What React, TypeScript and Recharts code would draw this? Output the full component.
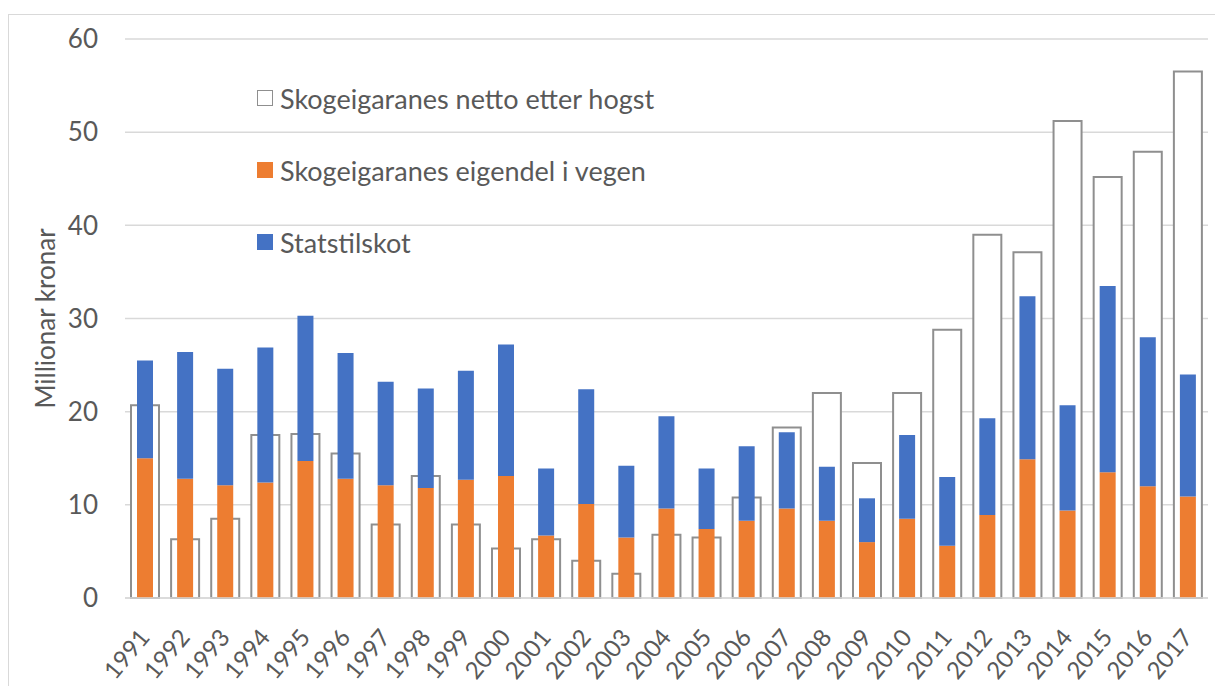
import React from 'react';
import { ComposedChart, Bar, XAxis, YAxis, CartesianGrid } from 'recharts';

const years = [
  '1991', '1992', '1993', '1994', '1995', '1996', '1997', '1998', '1999', '2000',
  '2001', '2002', '2003', '2004', '2005', '2006', '2007', '2008', '2009', '2010',
  '2011', '2012', '2013', '2014', '2015', '2016', '2017',
];

// Skogeigaranes netto etter hogst (white, outlined)
const netto = [
  20.7, 6.3, 8.5, 17.5, 17.6, 15.5, 7.9, 13.1, 7.9, 5.3,
  6.3, 4.0, 2.6, 6.8, 6.5, 10.8, 18.3, 22.0, 14.5, 22.0,
  28.8, 39.0, 37.1, 51.2, 45.2, 47.9, 56.5,
];

// Skogeigaranes eigendel i vegen (orange)
const eigendel = [
  15.0, 12.8, 12.1, 12.4, 14.7, 12.8, 12.1, 11.8, 12.7, 13.1,
  6.7, 10.1, 6.5, 9.6, 7.4, 8.3, 9.6, 8.3, 6.0, 8.5,
  5.6, 8.9, 14.9, 9.4, 13.5, 12.0, 10.9,
];

// Statstilskot (blue), stacked on top of eigendel
const statstilskot = [
  10.5, 13.6, 12.5, 14.5, 15.6, 13.5, 11.1, 10.7, 11.7, 14.1,
  7.2, 12.3, 7.7, 9.9, 6.5, 8.0, 8.2, 5.8, 4.7, 9.0,
  7.4, 10.4, 17.5, 11.3, 20.0, 16.0, 13.1,
];

const yTicks = [0, 10, 20, 30, 40, 50, 60];

const FONT = 'Lato, "Open Sans", sans-serif';
const TEXT = '#595959';
const ORANGE = '#ED7D31';
const BLUE = '#4472C4';
const OUTLINE = '#8f8f8f';

const data = years.map((year, i) => ({
  year,
  netto: netto[i],
  eigendel: eigendel[i],
  statstilskot: statstilskot[i],
}));

const legendItems = [
  { label: 'Skogeigaranes netto etter hogst', fill: '#fff', stroke: OUTLINE },
  { label: 'Skogeigaranes eigendel i vegen', fill: ORANGE, stroke: ORANGE },
  { label: 'Statstilskot', fill: BLUE, stroke: BLUE },
];

const YearTick = (props: any) => {
  const { x, y, payload } = props;
  const ax = x + 6;
  const ay = y + 32;
  return (
    <text
      x={ax}
      y={ay}
      textAnchor="end"
      fill={TEXT}
      fontSize={24}
      fontFamily={FONT}
      transform={`rotate(-50, ${ax}, ${ay})`}
    >
      {payload.value}
    </text>
  );
};

export default function App() {
  return (
    <div style={{ position: 'absolute', left: 0, top: 0, width: 1215, height: 686, background: '#fff', overflow: 'hidden' }}>
      <div
        style={{
          position: 'absolute',
          left: 8,
          top: 14,
          width: 1215,
          height: 700,
          border: '1.5px solid #d9d9d9',
          boxSizing: 'border-box',
        }}
      />
      <ComposedChart
        width={1215}
        height={686}
        data={data}
        margin={{ top: 39, right: 7, bottom: 8, left: 25 }}
        style={{ position: 'absolute', left: 0, top: 0 }}
      >
        <CartesianGrid stroke="#d9d9d9" strokeWidth={1.5} vertical={false} xAxisId="wide" />
        <XAxis
          xAxisId="wide"
          dataKey="year"
          height={80}
          interval={0}
          tickLine={false}
          axisLine={{ stroke: '#d9d9d9', strokeWidth: 1.5 }}
          tick={<YearTick />}
        />
        <XAxis xAxisId="narrow" dataKey="year" hide height={0} />
        <YAxis
          domain={[0, 60]}
          ticks={yTicks}
          width={100}
          axisLine={false}
          tickLine={false}
          tickMargin={21}
          tick={{ fill: TEXT, fontSize: 26, fontFamily: FONT }}
          label={{
            value: 'Millionar kronar',
            angle: -90,
            position: 'insideLeft',
            dx: 16,
            dy: 0,
            style: { textAnchor: 'middle', fill: TEXT, fontSize: 26, fontFamily: FONT },
          }}
        />
        <Bar
          xAxisId="wide"
          dataKey="netto"
          name="Skogeigaranes netto etter hogst"
          fill="#fff"
          stroke={OUTLINE}
          strokeWidth={2}
          barSize={28}
          isAnimationActive={false}
        />
        <Bar
          xAxisId="narrow"
          dataKey="eigendel"
          name="Skogeigaranes eigendel i vegen"
          stackId="s"
          fill={ORANGE}
          barSize={16}
          isAnimationActive={false}
        />
        <Bar
          xAxisId="narrow"
          dataKey="statstilskot"
          name="Statstilskot"
          stackId="s"
          fill={BLUE}
          barSize={16}
          isAnimationActive={false}
        />
      </ComposedChart>
      <div
        style={{
          position: 'absolute',
          left: 257,
          top: 62,
          fontFamily: FONT,
          fontSize: 27,
          color: TEXT,
        }}
      >
        {legendItems.map((item) => (
          <div key={item.label} style={{ display: 'flex', alignItems: 'center', height: 72 }}>
            <span
              style={{
                display: 'inline-block',
                width: 16,
                height: 16,
                background: item.fill,
                border: `1.5px solid ${item.stroke}`,
                boxSizing: 'border-box',
                marginRight: 7,
              }}
            />
            <span>{item.label}</span>
          </div>
        ))}
      </div>
    </div>
  );
}
